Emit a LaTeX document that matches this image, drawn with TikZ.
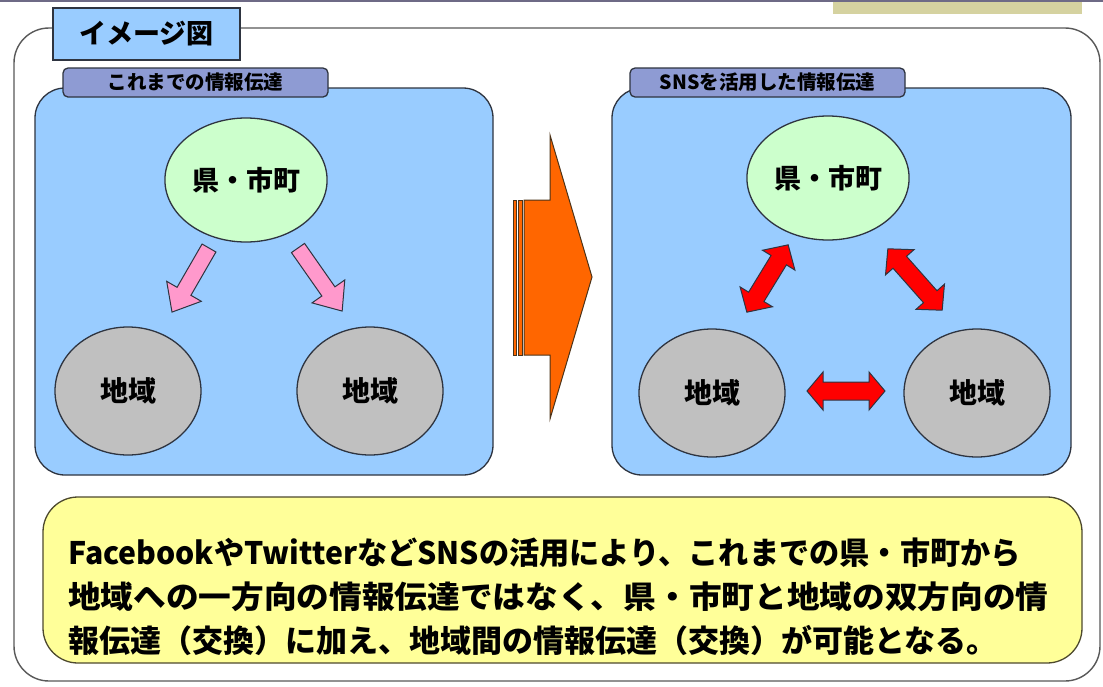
\documentclass[tikz,border=0pt]{standalone}
\usepackage{fontspec}
\setmainfont{Noto Sans CJK JP}
\usetikzlibrary{calc,shapes.geometric}
\definecolor{panelblue}{HTML}{99CCFF}
\definecolor{tabblue}{HTML}{8E9BD3}
\definecolor{cgreen}{HTML}{CCFFCC}
\definecolor{cgray}{HTML}{C0C0C0}
\definecolor{cpink}{HTML}{FF99CC}
\definecolor{cred}{HTML}{FF0000}
\definecolor{corange}{HTML}{FF6600}
\definecolor{cyellow}{HTML}{FFFF99}
\definecolor{ckhaki}{HTML}{D5D2A0}
\definecolor{edge}{HTML}{2E3440}
\definecolor{topline}{HTML}{6E6A86}
\newcommand\blkarrow[8]{%
  \begin{scope}[shift={(#1,#2)},rotate=#3]
    \draw[arrowline,fill=#8] (0,-#5/2) -- (#4-#7,-#5/2) -- (#4-#7,-#6/2) -- (#4,0) -- (#4-#7,#6/2) -- (#4-#7,#5/2) -- (0,#5/2) -- cycle;
  \end{scope}}
\newcommand\dblarrow[7]{%
  \begin{scope}[shift={(#1,#2)},rotate=#3]
    \draw[arrowline,fill=cred] (-#4/2,0) -- (-#4/2+#7,-#6/2) -- (-#4/2+#7,-#5/2) -- (#4/2-#7,-#5/2) -- (#4/2-#7,-#6/2) -- (#4/2,0) -- (#4/2-#7,#6/2) -- (#4/2-#7,#5/2) -- (-#4/2+#7,#5/2) -- (-#4/2+#7,#6/2) -- cycle;
  \end{scope}}
\begin{document}
\begin{tikzpicture}[yscale=-1,x=1pt,y=1pt,
  arrowline/.style={draw=edge,line width=1pt,line join=miter},
  panel/.style={draw=edge,line width=1.3pt,fill=panelblue,rounded corners=30pt},
  tab/.style={draw=edge,line width=1.3pt,fill=tabblue,rounded corners=5pt},
  tabtext/.style={font=\fontsize{19.5}{21}\selectfont\bfseries,inner sep=0pt},
  greencirc/.style={ellipse,draw=edge,line width=1.3pt,fill=cgreen,minimum width=130pt,minimum height=124pt,font=\fontsize{27}{30}\selectfont\bfseries},
  graycirc/.style={ellipse,draw=edge,line width=1.3pt,fill=cgray,minimum width=146pt,minimum height=128pt,font=\fontsize{28}{30}\selectfont\bfseries},
  bodytext/.style={anchor=west,inner sep=0pt,font=\fontsize{31}{34}\selectfont\bfseries}]
\useasboundingbox (0,0) rectangle (1103,686);
\fill[white] (0,0) rectangle (1103,686);
% top strip
\fill[ckhaki] (833,0) rectangle (1082,14);
\draw[line width=1.6pt,color=topline] (0,1) -- (1103,1);
% outer frame
\draw[line width=1.4pt,draw=black!65] (14,28) [rounded corners=35pt] rectangle (1100,681);
% title
\node[draw=edge,line width=1.3pt,fill=panelblue,minimum width=187pt,minimum height=52pt,font=\fontsize{27}{30}\selectfont\bfseries] (title) at (146.5,34) {イメージ図};
% panels
\draw[panel] (35,88) rectangle (493,475);
\draw[panel] (612,88) rectangle (1071,475);
\node[tab,tabtext,minimum width=265pt,minimum height=29pt] (tabL) at (195.5,82.5) {これまでの情報伝達};
\node[tab,tabtext,minimum width=275pt,minimum height=29pt] (tabR) at (767.5,82.5) {SNSを活用した情報伝達};
% left circles
\node[greencirc] (kenL) at (246,180) {県・市町};
\node[graycirc] (chiL1) at (128,391) {地域};
\node[graycirc] (chiL2) at (370,391) {地域};
% right circles
\node[greencirc] (kenR) at (828,178) {県・市町};
\node[graycirc] (chiR1) at (712,393) {地域};
\node[graycirc] (chiR2) at (977,393) {地域};
% pink arrows
\blkarrow{209}{248}{120}{74}{16}{40}{24}{cpink}
\blkarrow{298}{248}{55}{77}{16}{40}{24}{cpink}
% red double arrows
\dblarrow{767.5}{278.5}{-58.5}{79}{18}{38}{18}
\dblarrow{915}{279.5}{48.5}{82}{18}{38}{18}
\dblarrow{846}{391}{0}{78}{18}{38}{16}
% big orange arrow
\draw[arrowline,draw=black!60!brown,fill=corange] (513,200) rectangle (516,355);
\draw[arrowline,draw=black!60!brown,fill=corange] (518,200) rectangle (522,355);
\draw[arrowline,draw=black!60!brown,fill=corange] (524,200) -- (550,200) -- (550,135) -- (592,277) -- (550,419) -- (550,355) -- (524,355) -- cycle;
% bottom box
\draw[draw=black!60!olive,line width=1.3pt,fill=cyellow,rounded corners=35pt] (43,497) rectangle (1082,663);
\node[bodytext] (l1) at (68,553) {\scalebox{0.974}[1]{FacebookやTwitterなどSNSの活用により、これまでの県・市町から}};
\node[bodytext] (l2) at (68,597) {\scalebox{1.054}[1]{地域への一方向の情報伝達ではなく、県・市町と地域の双方向の情}};
\node[bodytext] (l3) at (68,640) {報伝達（交換）に加え、地域間の情報伝達（交換）が可能となる。};
\end{tikzpicture}
\end{document}
